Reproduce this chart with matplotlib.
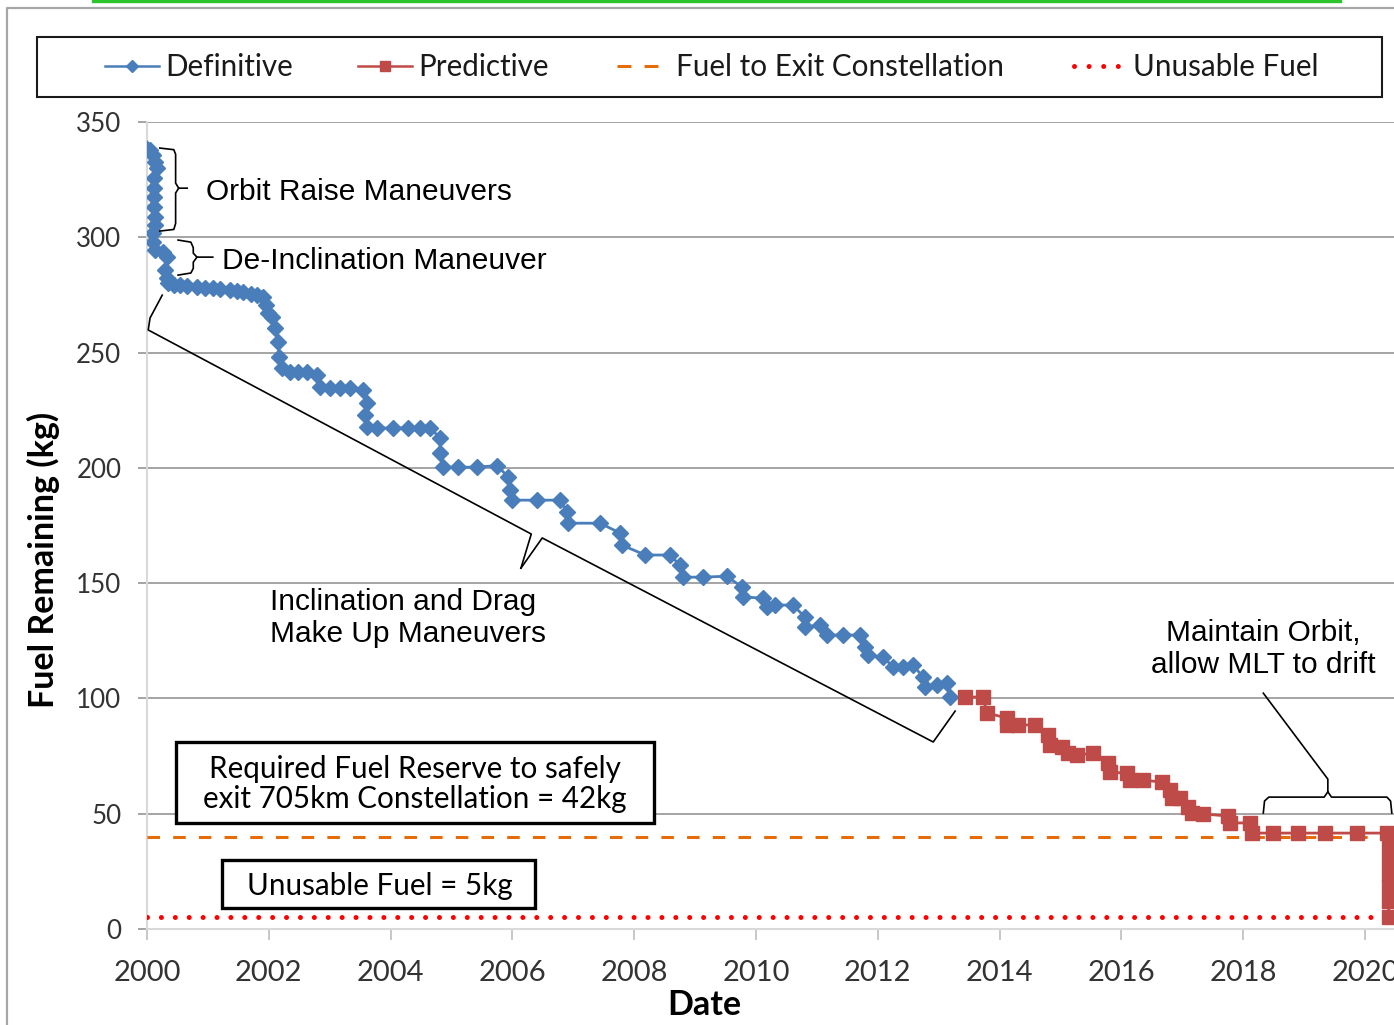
import matplotlib
matplotlib.use("Agg")
import matplotlib.pyplot as plt
from matplotlib.lines import Line2D
from matplotlib.patches import Rectangle

# ---------------------------
# Data
# ---------------------------
def_year = [1999.98, 2000.05, 2000.10, 2000.13, 2000.16, 2000.11, 2000.11, 2000.11,
            2000.11, 2000.13, 2000.13, 2000.10, 2000.10, 2000.13, 2000.26, 2000.33,
            2000.30, 2000.33, 2000.34, 2000.45, 2000.54, 2000.66, 2000.82, 2000.95,
            2001.08, 2001.20, 2001.36, 2001.47, 2001.58, 2001.70, 2001.81, 2001.90,
            2001.95, 2001.99, 2002.05, 2002.10, 2002.15, 2002.17, 2002.22, 2002.35,
            2002.48, 2002.63, 2002.79, 2002.84, 2003.00, 2003.17, 2003.33, 2003.55,
            2003.61, 2003.58, 2003.61, 2003.78, 2004.04, 2004.29, 2004.48, 2004.65,
            2004.81, 2004.81, 2004.86, 2005.11, 2005.42, 2005.75, 2005.93, 2005.96,
            2005.99, 2006.40, 2006.78, 2006.90, 2006.91, 2007.44, 2007.77, 2007.80,
            2008.18, 2008.59, 2008.75, 2008.80, 2009.13, 2009.52, 2009.77, 2009.79,
            2010.11, 2010.18, 2010.31, 2010.61, 2010.80, 2010.80, 2011.05, 2011.17,
            2011.43, 2011.71, 2011.79, 2011.84, 2012.09, 2012.25, 2012.41, 2012.58,
            2012.74, 2012.78, 2012.97, 2013.14, 2013.19]
def_fuel = [338.7, 337.8, 335.6, 332.6, 330.0, 325.7, 321.3, 317.5,
            313.0, 308.8, 305.3, 301.8, 298.0, 294.4, 293.6, 291.4,
            285.8, 282.3, 280.1, 279.5, 279.3, 279.0, 278.4, 278.2,
            278.0, 277.5, 277.0, 276.6, 276.2, 275.6, 275.0, 274.0,
            270.5, 267.1, 265.4, 260.6, 254.6, 248.0, 243.3, 241.5,
            241.5, 241.5, 240.2, 235.0, 234.6, 234.6, 234.6, 233.7,
            228.0, 222.9, 217.7, 217.3, 217.3, 217.3, 217.3, 217.3,
            213.0, 206.4, 200.3, 200.3, 200.3, 201.0, 196.0, 190.4,
            186.0, 186.0, 186.0, 180.8, 176.0, 176.0, 171.7, 166.5,
            162.2, 162.2, 157.8, 152.6, 152.6, 153.0, 148.3, 144.0,
            143.5, 139.6, 140.5, 140.5, 135.3, 131.0, 131.8, 127.5,
            127.5, 127.5, 122.3, 118.8, 118.0, 113.6, 113.6, 114.5,
            109.3, 105.0, 105.8, 106.7, 100.6]

pred_year = [2013.43, 2013.73, 2013.79, 2014.12, 2014.12, 2014.30, 2014.58, 2014.79,
             2014.83, 2015.02, 2015.12, 2015.27, 2015.53, 2015.78, 2015.81, 2016.09,
             2016.14, 2016.35, 2016.67, 2016.80, 2016.83, 2016.96, 2017.09, 2017.16,
             2017.34, 2017.75, 2017.78, 2018.11, 2018.14, 2018.49, 2018.90, 2019.34,
             2019.87, 2020.36, 2020.39, 2020.39, 2020.39, 2020.39, 2020.39, 2020.39]
pred_fuel = [100.6, 100.6, 93.7, 91.5, 88.5, 88.5, 88.5, 84.0,
             79.8, 79.0, 76.3, 75.5, 76.3, 72.0, 68.0, 67.6,
             64.6, 64.6, 63.7, 60.3, 56.8, 56.8, 52.9, 50.3,
             49.9, 49.0, 46.0, 46.0, 41.6, 41.6, 41.6, 41.6,
             41.6, 41.6, 36.0, 30.0, 24.0, 18.0, 12.0, 5.0]

exit_fuel = 40
unusable_fuel = 5

y_ticks = [0, 50, 100, 150, 200, 250, 300, 350]
x_ticks = list(range(2000, 2021, 2))

legend_labels = ["Definitive", "Predictive", "Fuel to Exit Constellation", "Unusable Fuel"]

BLUE = "#4A7EBB"
RED = "#BE4B48"
ORANGE = "#E46C0A"
DOT_RED = "#FF0000"
CAL = "Lato"
ARIAL = "Liberation Sans"
ANN_SIZE = 21.5

plt.rcParams["lines.scale_dashes"] = False

W, H = 1394, 1025
fig = plt.figure(figsize=(W / 100, H / 100), dpi=100)


def fx(p):
    return p / W


def fy(p):
    return 1 - p / H


ax = fig.add_axes([fx(147), fy(929), fx(1394 - 147), (929 - 122) / H])
ax.set_xlim(2000, 2000 + 1247 / 60.9)
ax.set_ylim(0, 350)

# series
ax.plot(def_year, def_fuel, color=BLUE, lw=2.0, marker="D", ms=8.5,
        mec=BLUE, mfc=BLUE, zorder=5)
ax.plot(pred_year, pred_fuel, color=RED, lw=2.0, marker="s", ms=10.5,
        mec=RED, mfc=RED, zorder=5)
ax.axhline(exit_fuel, color=ORANGE, lw=2.2, dashes=(9, 9.5), zorder=4)
ax.axhline(unusable_fuel, color=DOT_RED, lw=3.6, dashes=(0.01, 10),
           dash_capstyle="round", zorder=4)

# axes styling
ax.set_yticks(y_ticks)
ax.set_xticks(x_ticks)
ax.grid(axis="y", color="#8C8C8C", lw=1.1, zorder=0)
ax.get_ygridlines()[0].set_visible(False)
for s in ["top", "right"]:
    ax.spines[s].set_visible(False)
for s in ["left", "bottom"]:
    ax.spines[s].set_color("#D9D9D9")
    ax.spines[s].set_linewidth(1.5)
ax.tick_params(axis="y", length=6.5, width=1.1, color="#8C8C8C", pad=12,
               labelsize=18.7, labelcolor="#333333")
ax.tick_params(axis="x", length=8, width=1.2, color="#BFBFBF", pad=14,
               labelsize=21, labelcolor="#333333")
for lab in ax.get_xticklabels() + ax.get_yticklabels():
    lab.set_fontfamily(CAL)

fig.text(fx(43), fy(560), "Fuel Remaining (kg)", rotation=90, ha="center",
         va="center", fontsize=24.5, fontweight="bold", family=CAL)
fig.text(fx(704), fy(1005), "Date", ha="center", va="center", fontsize=24.5,
         fontweight="bold", family=CAL)

# annotation brackets
def bracket(xs, ys):
    ax.plot(xs, ys, color="black", lw=1.2, zorder=6, clip_on=False,
            solid_joinstyle="round")

bracket([2000.21, 2000.44, 2000.47, 2000.47, 2000.52, 2000.66],
        [338.7, 338.0, 336.0, 323.5, 321.3, 321.3])
bracket([2000.52, 2000.47, 2000.47, 2000.44, 2000.21],
        [321.3, 319.2, 306.0, 303.4, 302.7])
ax.text(2000.97, 319.6, "Orbit Raise Maneuvers", ha="left", va="center",
        fontsize=ANN_SIZE, family=ARIAL, color="black")

bracket([2000.51, 2000.72, 2000.76, 2000.76, 2000.82, 2001.08],
        [298.8, 297.9, 295.5, 293.1, 291.4, 291.4])
bracket([2000.82, 2000.76, 2000.76, 2000.72, 2000.51],
        [291.4, 289.2, 286.5, 284.5, 283.6])
ax.text(2001.23, 289.7, "De-Inclination Maneuver", ha="left", va="center",
        fontsize=ANN_SIZE, family=ARIAL, color="black")

bracket([2000.25, 2000.05, 2000.02, 2006.31, 2006.14],
        [274.9, 265.0, 259.8, 171.3, 156.5])
bracket([2006.14, 2006.49, 2012.91, 2013.27],
        [156.5, 169.6, 81.1, 94.5])
ax.text(2002.02, 134.9, "Inclination and Drag\nMake Up Maneuvers", ha="left",
        va="center", fontsize=ANN_SIZE, family=ARIAL, color="black",
        linespacing=1.2)

bracket([2018.33, 2019.39, 2019.39], [102.3, 65.0, 59.5])
bracket([2018.33, 2018.35, 2018.42, 2019.33, 2019.39],
        [50.3, 55.5, 57.2, 57.2, 59.5])
bracket([2019.39, 2019.45, 2020.36, 2020.42, 2020.44],
        [59.5, 57.2, 57.2, 55.5, 50.3])
ax.text(2018.33, 121.4, "Maintain Orbit,\nallow MLT to drift", ha="center",
        va="center", fontsize=ANN_SIZE, family=ARIAL, color="black",
        linespacing=1.2)

# text boxes
ax.add_patch(Rectangle((2000.48, 46.0), 2008.33 - 2000.48, 81.1 - 46.0,
                       facecolor="white", edgecolor="black", lw=2.4, zorder=7))
ax.text(2004.40, 63.0, "Required Fuel Reserve to safely\nexit 705km Constellation = 42kg",
        ha="center", va="center", fontsize=21.3, family=CAL, zorder=8,
        linespacing=1.1)
ax.add_patch(Rectangle((2001.23, 9.1), 2006.37 - 2001.23, 29.9 - 9.1,
                       facecolor="white", edgecolor="black", lw=2.4, zorder=7))
ax.text(2003.83, 18.6, "Unusable Fuel = 5kg", ha="center", va="center",
        fontsize=21.3, family=CAL, zorder=8)

# legend drawn by hand in figure coordinates
fig.patches.append(Rectangle((fx(37), fy(97)), fx(1382 - 37), (97 - 37) / H,
                             transform=fig.transFigure, facecolor="white",
                             edgecolor="#1A1A1A", lw=1.5))
ly = fy(66)
fig.lines.append(Line2D([fx(105), fx(159)], [ly, ly], transform=fig.transFigure,
                        color=BLUE, lw=1.8))
fig.lines.append(Line2D([fx(132)], [ly], transform=fig.transFigure, color=BLUE,
                        marker="D", ms=6, lw=0))
fig.lines.append(Line2D([fx(358), fx(412)], [ly, ly], transform=fig.transFigure,
                        color=RED, lw=1.8))
fig.lines.append(Line2D([fx(385)], [ly], transform=fig.transFigure, color=RED,
                        marker="s", ms=7, lw=0))
fig.lines.append(Line2D([fx(617), fx(660)], [ly, ly], transform=fig.transFigure,
                        color=ORANGE, lw=2.2, dashes=(10, 9.5)))
fig.lines.append(Line2D([fx(1074), fx(1118)], [ly, ly], transform=fig.transFigure,
                        color=DOT_RED, lw=3.6, dashes=(0.01, 10.5),
                        dash_capstyle="round"))
for xpos, lab in zip([165, 418, 676, 1133], legend_labels):
    fig.text(fx(xpos), fy(67), lab, ha="left", va="center", fontsize=21.3,
             family=CAL, color="#1A1A1A")

# outer chart frame and page line
fig.lines.append(Line2D([fx(7), fx(7), fx(1394)], [fy(1025), fy(8), fy(8)],
                        transform=fig.transFigure, color="#A6A6A6", lw=1.6))
fig.lines.append(Line2D([fx(93), fx(1340)], [fy(1), fy(1)],
                        transform=fig.transFigure, color="#2BC42B", lw=2.4))

fig.savefig("out.png", dpi=100)
